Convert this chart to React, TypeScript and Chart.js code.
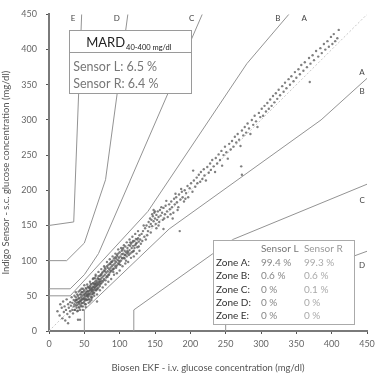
import React, { useEffect, useRef } from "react";
import { Chart, registerables } from "chart.js";

Chart.register(...registerables);

// Axis ticks
const axisMin = 0;
const axisMax = 450;
const axisStep = 50;

// Parkes (consensus) error grid, type 1 boundaries
const upperA = [[0, 50], [30, 50], [140, 170], [280, 380], [5000, 5950]];
const lowerA = [[50, 0], [50, 30], [170, 145], [385, 300], [550, 450]];
const upperB = [[0, 60], [30, 60], [50, 80], [70, 110], [260, 550]];
const lowerB = [[120, 0], [120, 30], [260, 130], [550, 250]];
const upperC = [[0, 100], [25, 100], [50, 125], [80, 215], [125, 550]];
const lowerC = [[250, 0], [250, 40], [550, 150]];
const upperD = [[0, 150], [35, 155], [50, 550]];
const identity = [[0, 0], [450, 450]];

// Measured pairs (reference, sensor)
const lowTail = [[12,28],[15,22],[16,38],[18,33],[19,18],[20,42],[21,27],[22,35],[23,15],[24,30],[25,45],[26,24],[27,38],[27,11],[28,33],[29,20],[30,41],[30,28],[31,36],[32,48],[33,30],[33,40],[34,25],[35,44],[35,35],[36,50],[36,30],[41,16],[44,16]];
const coreBand = [[37,42],[37,30],[38,36],[38,48],[39,33],[39,40],[40,45],[40,37],[41,29],[41,50],[42,40],[42,34],[43,46],[43,38],[44,52],[44,42],[45,36],[45,48],[46,44],[46,55],[47,40],[47,50],[48,45],[48,35],[49,52],[49,47],[50,42],[50,58],[51,49],[51,38],[52,54],[52,46],[53,50],[53,60],[54,44],[54,56],[55,52],[55,48],[56,62],[56,50],[57,45],[57,57],[58,53],[58,64],[59,58],[59,49],[60,55],[60,66],[61,60],[61,52],[62,58],[62,68],[63,62],[63,55],[64,66],[64,59],[65,70],[65,61],[66,58],[66,67],[67,64],[67,72],[68,60],[68,70],[69,66],[69,75],[70,68],[70,62],[71,73],[71,66],[72,70],[72,78],[73,67],[73,74],[74,80],[74,71],[44,58],[52,38],[58,42],[63,75],[48,60],[55,63],[60,47],[66,78],[68,42],[42,47],[46,39],[50,51],[54,50],[57,61],[61,57],[65,66],[39,44],[43,33],[47,55],[51,44],[53,56],[59,62],[62,53],[67,68],[70,74],[45,43],[49,40],[56,54],[64,63]];
const coreSpread = [[38,55],[40,28],[42,56],[44,30],[46,60],[48,30],[50,65],[52,34],[54,66],[56,40],[58,70],[60,44],[62,74],[64,50],[66,80],[68,52],[70,84],[72,58],[74,88],[76,62],[78,92],[80,66],[82,98],[84,70],[86,102],[88,74],[90,106],[92,80],[94,110],[96,82],[98,116],[100,86],[102,118],[104,92],[106,122],[108,96],[110,126],[112,98],[114,130],[116,104],[118,134],[120,106],[122,138],[124,110],[126,142],[128,114],[36,38],[38,44],[40,52],[41,41],[43,42],[45,52],[46,35],[47,46],[49,56],[50,46],[51,53],[52,61],[53,44],[54,52],[55,57],[56,45],[57,52],[58,59],[59,67],[60,60],[61,48],[62,63],[63,68],[64,54],[65,75],[66,63],[67,58],[68,65],[69,60],[70,78],[71,70],[72,64],[73,80],[74,68],[75,82],[77,72],[79,90],[81,76],[83,90],[85,80],[87,86],[89,98],[91,84],[93,100],[95,90],[97,106],[99,100],[101,94],[103,104],[105,118],[107,108],[109,100],[111,114],[113,108],[115,126],[117,112],[119,128],[121,118],[125,130],[127,120]];
const midBand = [[75,76],[76,70],[76,84],[77,78],[78,74],[78,86],[79,80],[80,72],[80,88],[81,83],[82,78],[82,92],[83,85],[84,80],[84,94],[85,88],[86,83],[86,96],[87,90],[88,85],[88,98],[89,92],[90,87],[90,100],[91,94],[92,89],[92,103],[93,96],[94,92],[94,105],[95,98],[96,93],[96,108],[97,101],[98,96],[98,110],[99,104],[100,98],[100,112],[101,106],[102,100],[103,109],[104,103],[104,116],[105,110],[106,104],[107,114],[108,108],[108,120],[109,112],[110,106],[111,118],[112,112],[113,122],[114,115],[115,110],[116,124],[117,118],[118,126],[119,121],[120,114],[121,128],[122,122],[123,131],[124,125],[125,119],[126,132],[127,127],[128,136],[129,130],[130,124],[79,85],[83,77],[87,95],[91,88],[95,103],[99,95],[103,114],[107,103],[111,110],[115,121],[119,113],[123,124]];
const upperBand = [[131,138],[132,128],[133,142],[135,134],[136,146],[137,130],[138,150],[140,142],[141,155],[142,148],[143,160],[144,152],[145,158],[146,149],[147,163],[148,156],[149,168],[150,160],[151,152],[152,165],[153,158],[154,170],[155,162],[156,155],[157,172],[158,164],[160,168],[161,158],[162,175],[164,166],[165,178],[167,170],[168,162],[170,180],[171,173],[173,184],[174,176],[176,168],[177,188],[178,180],[180,190],[181,183],[183,176],[184,194],[186,187],[188,198],[189,190],[191,184],[192,200],[194,196],[196,206],[197,190],[199,203],[162,145],[185,142],[175,160],[146,166],[150,170],[155,150],[134,150],[139,136],[144,140],[148,172],[152,146],[159,176],[163,160],[166,185],[172,166],[179,195],[182,172],[187,202],[193,188]];
const highBand = [[201,210],[203,198],[205,214],[207,205],[209,218],[210,210],[212,222],[214,212],[215,226],[217,216],[219,230],[220,221],[222,214],[224,233],[226,225],[228,238],[229,229],[231,243],[233,234],[235,226],[236,246],[238,238],[240,251],[242,243],[244,256],[245,235],[247,250],[249,262],[251,254],[253,245],[255,266],[257,258],[259,270],[261,262],[263,276],[265,268],[267,280],[269,272],[271,263],[273,285],[275,278],[277,290],[279,282],[281,295],[283,288],[285,280],[287,300],[289,293],[291,306],[293,298],[295,290],[297,310],[299,304],[272,234],[273,222],[204,228]];
const topBand = [[301,316],[303,306],[305,320],[307,312],[309,324],[311,316],[313,329],[315,320],[317,334],[319,325],[321,338],[323,330],[325,343],[327,335],[330,348],[332,340],[334,353],[336,345],[339,358],[341,350],[343,362],[346,355],[348,368],[350,360],[353,372],[355,365],[357,378],[360,370],[362,382],[365,375],[368,388],[370,380],[373,392],[375,385],[378,398],[381,390],[384,402],[386,395],[389,408],[391,400],[394,412],[396,404],[399,418],[401,408],[403,422],[405,412],[408,416],[410,428],[369,354]];

// Zone labels
const topZoneLabels = ["E", "D", "C", "B", "A"];
const topZoneX = [34, 96, 202, 324, 361];
const rightZoneLabels = ["A", "B", "C", "D"];
const rightZoneY = [368, 340, 186, 93];

// Summary text
const mardSensors = ["Sensor L: 6.5 %", "Sensor R: 6.4 %"];
const tableHeaders = ["Sensor L", "Sensor R"];
const tableZones = ["Zone A:", "Zone B:", "Zone C:", "Zone D:", "Zone E:"];
const sensorLValues = ["99.4 %", "0.6 %", "0 %", "0 %", "0 %"];
const sensorRValues = ["99.3 %", "0.6 %", "0.1 %", "0 %", "0 %"];

const FONT = "Lato, 'Open Sans', sans-serif";

const toXY = (arr: number[][]) => arr.map(([x, y]) => ({ x, y }));

const overlayPlugin = {
  id: "overlay",
  afterDraw(chart: any) {
    const ctx = chart.ctx;
    const xs = chart.scales.x;
    const ys = chart.scales.y;
    ctx.save();
    // zone labels
    ctx.fillStyle = "#444";
    ctx.font = `8px ${FONT}`;
    ctx.textAlign = "center";
    ctx.textBaseline = "middle";
    topZoneLabels.forEach((l, i) => {
      ctx.fillText(l, xs.getPixelForValue(topZoneX[i]), ys.getPixelForValue(444));
    });
    rightZoneLabels.forEach((l, i) => {
      ctx.fillText(l, xs.getPixelForValue(443), ys.getPixelForValue(rightZoneY[i]));
    });

    // MARD box
    const bx0 = xs.getPixelForValue(28.5);
    const bx1 = xs.getPixelForValue(201);
    const by0 = ys.getPixelForValue(427.5);
    const by1 = ys.getPixelForValue(337.5);
    const bdiv = ys.getPixelForValue(396.5);
    ctx.fillStyle = "#fff";
    ctx.fillRect(bx0, by0, bx1 - bx0, by1 - by0);
    ctx.strokeStyle = "#9a9a9a";
    ctx.lineWidth = 1;
    ctx.strokeRect(Math.round(bx0) + 0.5, Math.round(by0) + 0.5, Math.round(bx1 - bx0), Math.round(by1 - by0));
    ctx.beginPath();
    ctx.moveTo(bx0, Math.round(bdiv) + 0.5);
    ctx.lineTo(bx1, Math.round(bdiv) + 0.5);
    ctx.stroke();
    ctx.textAlign = "left";
    ctx.textBaseline = "alphabetic";
    ctx.fillStyle = "#222";
    ctx.font = `13px ${FONT}`;
    const tx = bx0 + 17;
    const ty = by0 + 17;
    ctx.fillText("MARD", tx, ty);
    const w = ctx.measureText("MARD").width;
    ctx.font = `7.5px ${FONT}`;
    ctx.fillText("40-400 mg/dl", tx + w + 1, ty + 2.5);
    ctx.font = `12.5px ${FONT}`;
    ctx.fillStyle = "#777";
    mardSensors.forEach((s, i) => {
      ctx.fillText(s, bx0 + 4, bdiv + 19 + i * 17);
    });

    // Zone table box
    const tx0 = xs.getPixelForValue(232);
    const tx1 = xs.getPixelForValue(431.5);
    const ty0 = ys.getPixelForValue(129.5);
    const ty1 = ys.getPixelForValue(10);
    ctx.fillStyle = "#fff";
    ctx.fillRect(tx0, ty0, tx1 - tx0, ty1 - ty0);
    ctx.strokeStyle = "#aaa";
    ctx.strokeRect(Math.round(tx0) + 0.5, Math.round(ty0) + 0.5, Math.round(tx1 - tx0), Math.round(ty1 - ty0));
    ctx.font = `10px ${FONT}`;
    ctx.textBaseline = "middle";
    const c0 = tx0 + 3;
    const c1 = tx0 + 48;
    const c2 = tx0 + 91;
    ctx.fillStyle = "#777";
    ctx.fillText(tableHeaders[0], c1, ty0 + 9);
    ctx.fillStyle = "#999";
    ctx.fillText(tableHeaders[1], c2, ty0 + 9);
    tableZones.forEach((z, i) => {
      const y = ty0 + 23 + i * 13.2;
      ctx.fillStyle = "#333";
      ctx.fillText(z, c0, y);
      ctx.fillStyle = "#888";
      ctx.fillText(sensorLValues[i], c1, y);
      ctx.fillStyle = "#aaa";
      ctx.fillText(sensorRValues[i], c2, y);
    });
    ctx.restore();
  },
};

export default function App() {
  const ref = useRef<HTMLCanvasElement | null>(null);
  useEffect(() => {
    if (!ref.current) return;
    const lineDs = (pts: number[][]) => ({
      data: toXY(pts),
      showLine: true,
      borderColor: "#939393",
      borderWidth: 1,
      pointRadius: 0,
      fill: false,
      order: 2,
    });
    const scatterDs = (pts: number[][]) => ({
      data: toXY(pts),
      showLine: false,
      pointRadius: 1.2,
      pointBorderWidth: 0,
      backgroundColor: "rgba(85,85,85,0.75)",
      order: 1,
    });
    const chart = new Chart(ref.current, {
      type: "scatter",
      data: {
        datasets: [
          { ...lineDs(identity), borderColor: "#c8c8c8", borderDash: [2, 2] },
          lineDs(upperA),
          lineDs(lowerA),
          lineDs(upperB),
          lineDs(lowerB),
          lineDs(upperC),
          lineDs(lowerC),
          lineDs(upperD),
          scatterDs(lowTail),
          scatterDs(coreBand),
          scatterDs(coreSpread),
          scatterDs(midBand),
          scatterDs(upperBand),
          scatterDs(highBand),
          scatterDs(topBand),
        ],
      },
      options: {
        responsive: false,
        animation: false,
        layout: { padding: { top: 11, right: 14, left: 0, bottom: 0 } },
        plugins: { legend: { display: false }, tooltip: { enabled: false } },
        scales: {
          x: {
            type: "linear",
            min: axisMin,
            max: axisMax,
            ticks: { stepSize: axisStep, color: "#666", font: { size: 9, family: FONT }, padding: 5 },
            grid: { display: true, drawOnChartArea: false, drawTicks: true, tickLength: 3, color: "#555" },
            border: { display: true, color: "#7a7a7a", width: 2 },
            title: {
              display: true,
              text: "Biosen EKF - i.v. glucose concentration (mg/dl)",
              color: "#555",
              font: { size: 9.5, family: FONT },
              padding: { top: 4, bottom: 0 },
            },
            afterFit: (s: any) => { s.height = 43; },
          },
          y: {
            type: "linear",
            min: axisMin,
            max: axisMax,
            ticks: { stepSize: axisStep, color: "#666", font: { size: 9, family: FONT }, padding: 9 },
            grid: { display: true, drawOnChartArea: false, drawTicks: true, tickLength: 3, color: "#555" },
            border: { display: true, color: "#7a7a7a", width: 2 },
            title: {
              display: true,
              text: "Indigo Sensor - s.c. glucose concentration (mg/dl)",
              color: "#555",
              font: { size: 9.5, family: FONT },
              padding: { top: 0, bottom: 4 },
            },
            afterFit: (s: any) => { s.width = 49; },
          },
        },
      } as any,
      plugins: [overlayPlugin],
    });
    return () => chart.destroy();
  }, []);
  return (
    <div style={{ position: "fixed", left: 0, top: 0, width: 381, height: 374, background: "#fff" }}>
      <canvas ref={ref} width={381} height={374} />
    </div>
  );
}
